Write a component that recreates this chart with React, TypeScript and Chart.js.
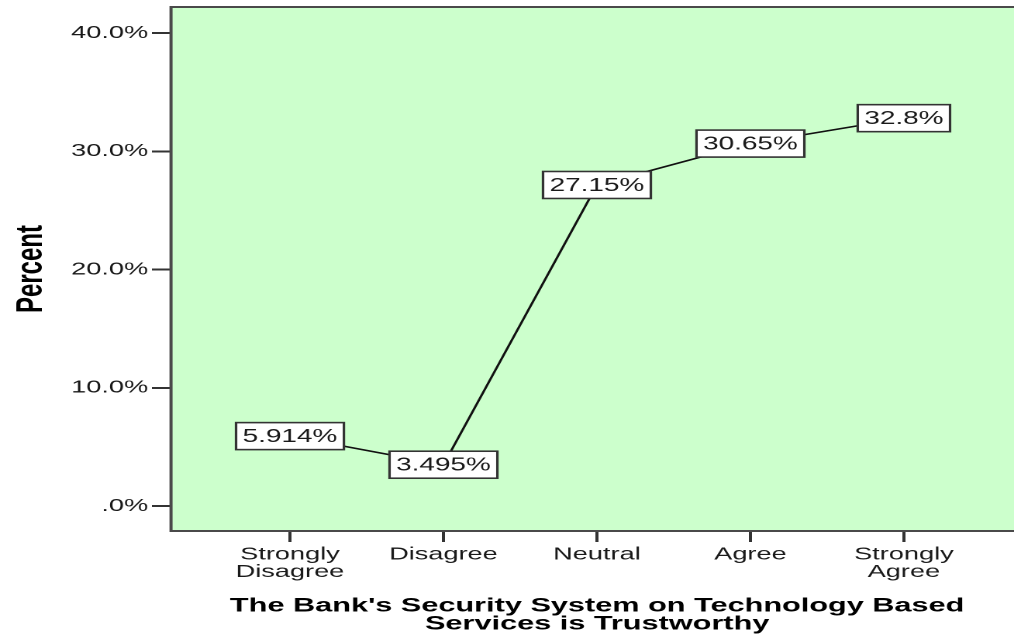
import React, { useEffect, useRef } from "react";
import { Chart, registerables } from "chart.js";

Chart.register(...registerables);

const categories = ["Strongly Disagree", "Disagree", "Neutral", "Agree", "Strongly Agree"];
const categoryTickLines = [["Strongly", "Disagree"], ["Disagree"], ["Neutral"], ["Agree"], ["Strongly", "Agree"]];
const percentValues = [5.914, 3.495, 27.15, 30.65, 32.8];
const valueLabels = ["5.914%", "3.495%", "27.15%", "30.65%", "32.8%"];
const yTickValues = [0, 10, 20, 30, 40];
const yTickLabels = [".0%", "10.0%", "20.0%", "30.0%", "40.0%"];
const xTitleLines = ["The Bank's Security System on Technology Based", "Services is Trustworthy"];
const yTitle = "Percent";

const FONT = "'Liberation Sans', Arial, Helvetica, sans-serif";
const STRETCH = 1014 / 654;
const CANVAS_W = 660;
const CANVAS_H = 636;

const chartDecor = {
  id: "chartDecor",
  beforeDraw(chart: any) {
    const { ctx, chartArea: a } = chart;
    ctx.save();
    ctx.fillStyle = "#ccffcc";
    ctx.fillRect(a.left, a.top, a.right - a.left, a.bottom - a.top);
    ctx.restore();
  },
  afterDatasetsDraw(chart: any) {
    const { ctx, chartArea: a } = chart;
    ctx.save();
    ctx.strokeStyle = "#4a4a4a";
    ctx.lineWidth = 2;
    ctx.strokeRect(a.left, a.top, a.right - a.left + 10, a.bottom - a.top);
    const meta = chart.getDatasetMeta(0);
    ctx.font = `18px ${FONT}`;
    ctx.textAlign = "center";
    ctx.textBaseline = "middle";
    meta.data.forEach((el: any, i: number) => {
      const text = valueLabels[i];
      const tw = ctx.measureText(text).width;
      const w = tw + 8.5;
      const h = 27;
      const x = el.x - w / 2;
      const y = el.y - h / 2;
      ctx.fillStyle = "#ffffff";
      ctx.fillRect(x, y, w, h);
      ctx.strokeStyle = "#333333";
      ctx.lineWidth = 1.6;
      ctx.strokeRect(x, y, w, h);
      ctx.fillStyle = "#1a1a1a";
      ctx.fillText(text, el.x, el.y + 1);
    });
    ctx.restore();
  },
};

export default function App() {
  const ref = useRef<HTMLCanvasElement | null>(null);

  useEffect(() => {
    if (!ref.current) return;
    const chart = new Chart(ref.current, {
      type: "line",
      data: {
        datasets: [
          {
            label: yTitle,
            data: percentValues.map((v, i) => ({ x: i, y: v })),
            borderColor: "#111111",
            borderWidth: 1.6,
            pointRadius: 0,
            pointHoverRadius: 0,
            tension: 0,
            fill: false,
          },
        ],
      },
      options: {
        animation: false,
        responsive: false,
        devicePixelRatio: 2,
        events: [],
        layout: { padding: { top: 7, left: 0, right: 0, bottom: 0 } },
        plugins: {
          legend: { display: false },
          tooltip: { enabled: false },
          title: { display: false },
        },
        scales: {
          x: {
            type: "linear",
            min: -0.775,
            max: 4.778,
            afterFit: (scale: any) => {
              scale.height = 105;
              scale.paddingLeft = 0;
              scale.paddingRight = 0;
            },
            afterBuildTicks: (scale: any) => {
              scale.ticks = categories.map((_, i) => ({ value: i }));
            },
            ticks: {
              autoSkip: false,
              maxRotation: 0,
              minRotation: 0,
              padding: 4,
              color: "#1a1a1a",
              font: { family: FONT, size: 17.5, lineHeight: 1 },
              callback: (v: any) => {
                const idx = Math.round(Number(v));
                return categoryTickLines[idx] ?? "";
              },
            },
            grid: {
              drawOnChartArea: false,
              drawTicks: true,
              tickLength: 11,
              tickColor: "#333333",
              tickWidth: 2,
            },
            border: { display: false },
            title: {
              display: true,
              text: xTitleLines,
              color: "#000000",
              font: { family: FONT, size: 19.8, weight: "bold", lineHeight: 18 / 19.8 },
              padding: { top: 0, bottom: 3 },
            },
          },
          y: {
            type: "linear",
            min: -2.11,
            max: 42.2,
            afterFit: (scale: any) => {
              scale.width = 110.3;
              scale.paddingTop = 0;
              scale.paddingBottom = 0;
            },
            afterBuildTicks: (scale: any) => {
              scale.ticks = yTickValues.map((v) => ({ value: v }));
            },
            ticks: {
              padding: 2.5,
              color: "#1a1a1a",
              font: { family: FONT, size: 17.5 },
              callback: (v: any) => {
                const idx = yTickValues.indexOf(Math.round(Number(v)));
                return idx >= 0 ? yTickLabels[idx] : "";
              },
            },
            grid: {
              drawOnChartArea: false,
              drawTicks: true,
              tickLength: 12.3,
              tickColor: "#333333",
              tickWidth: 2,
            },
            border: { display: false },
            title: {
              display: true,
              text: yTitle,
              color: "#000000",
              font: { family: FONT, size: 24, weight: "bold", lineHeight: 1.2 },
              padding: { top: 6, bottom: 0 },
            },
          },
        },
      },
      plugins: [chartDecor],
    });
    return () => chart.destroy();
  }, []);

  return (
    <div
      style={{
        position: "fixed",
        left: 0,
        top: 0,
        width: 1014,
        height: 636,
        overflow: "hidden",
        background: "#ffffff",
      }}
    >
      <div
        style={{
          width: CANVAS_W,
          height: CANVAS_H,
          transform: `scaleX(${STRETCH})`,
          transformOrigin: "0 0",
        }}
      >
        <canvas
          ref={ref}
          width={CANVAS_W}
          height={CANVAS_H}
          style={{ width: CANVAS_W, height: CANVAS_H, display: "block" }}
        />
      </div>
    </div>
  );
}
